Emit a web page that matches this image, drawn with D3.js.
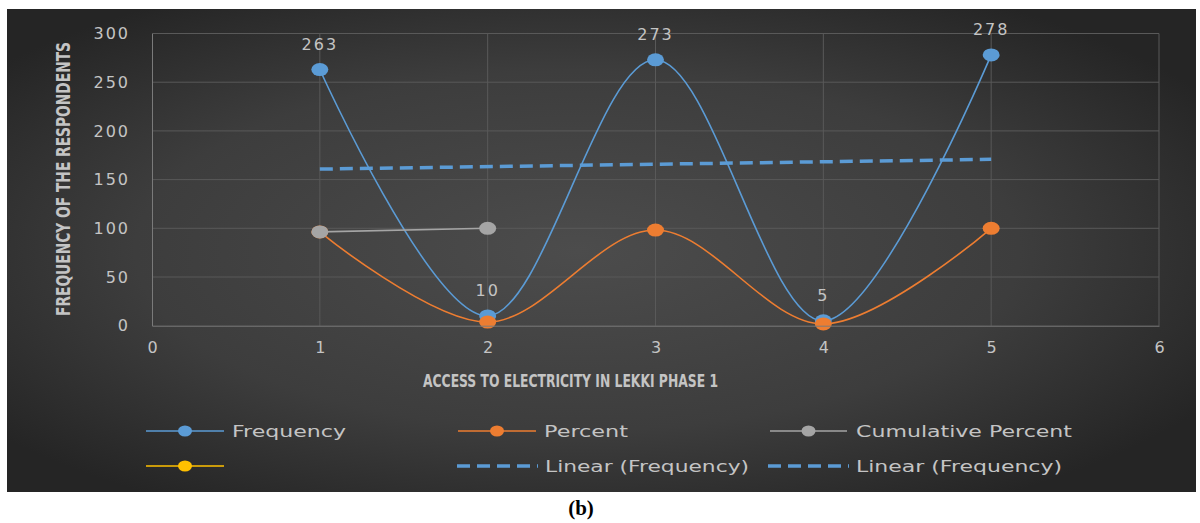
<!DOCTYPE html>
<html>
<head>
<meta charset="utf-8">
<script src="https://cdn.jsdelivr.net/npm/d3@7"></script>
<style>
  body { margin: 0; background: #fff; }
  svg { display: block; }
</style>
</head>
<body>
<script>
// data
var categories = [1, 2, 3, 4, 5];
var frequency = [263, 10, 273, 5, 278];
var percent = [96.3, 3.7, 98.2, 1.8, 100];
var cumulative = [96.3, 100];          // only two points shown
var trendX = [1, 5];
var trendY = [160.8, 170.8];           // Linear (Frequency)
var xTicks = [0, 1, 2, 3, 4, 5, 6];
var yTicks = [0, 50, 100, 150, 200, 250, 300];

var width = 1200, height = 523;
var textCol = "#c4c4c4";

var svg = d3.select("body").append("svg")
  .attr("width", width).attr("height", height);

// dark panel with soft radial light
var defs = svg.append("defs");
var grad = defs.append("radialGradient").attr("id", "bg")
  .attr("cx", "48%").attr("cy", "50%").attr("r", "62%");
grad.append("stop").attr("offset", "0%").attr("stop-color", "#4c4c4c");
grad.append("stop").attr("offset", "60%").attr("stop-color", "#3d3d3d");
grad.append("stop").attr("offset", "100%").attr("stop-color", "#252525");

svg.append("rect")
  .attr("x", 7).attr("y", 9).attr("width", 1189).attr("height", 483)
  .attr("fill", "url(#bg)");

// scales
var x = d3.scaleLinear().domain([0, 6]).range([152, 1159]);
var y = d3.scaleLinear().domain([0, 300]).range([325.7, 33.5]);

var plot = svg.append("g");

// gridlines
plot.selectAll(".hgrid").data(yTicks.slice(1)).enter().append("line")
  .attr("x1", x(0)).attr("x2", x(6))
  .attr("y1", d => y(d)).attr("y2", d => y(d))
  .attr("stroke", "#595959").attr("stroke-width", 1);
plot.selectAll(".vgrid").data(xTicks.slice(1)).enter().append("line")
  .attr("x1", d => x(d)).attr("x2", d => x(d))
  .attr("y1", y(0)).attr("y2", y(300))
  .attr("stroke", "#595959").attr("stroke-width", 1);

// axes
var xAxis = d3.axisBottom(x).tickValues(xTicks).tickFormat(d3.format("d"))
  .tickSize(0).tickPadding(16);
var gx = svg.append("g").attr("transform", "translate(0," + y(0) + ")").call(xAxis);
gx.select(".domain").attr("stroke", "#7a7a7a");
gx.selectAll("text").attr("fill", textCol)
  .style("font-family", "DejaVu Sans").style("font-size", "16px");

var yAxis = d3.axisLeft(y).tickValues(yTicks).tickSize(0).tickPadding(22);
var gy = svg.append("g").attr("transform", "translate(" + x(0) + ",0)").call(yAxis);
gy.select(".domain").attr("stroke", "#7a7a7a");
gy.selectAll("text").attr("fill", textCol)
  .style("font-family", "DejaVu Sans").style("font-size", "16px")
  .style("letter-spacing", "2px");

// axis titles (y title squeezed to the condensed look of the original)
var yTitle = svg.append("text")
  .attr("text-anchor", "middle")
  .attr("fill", textCol)
  .style("font-family", "'DejaVu Sans Condensed', 'Liberation Sans', sans-serif")
  .style("font-weight", "bold")
  .style("font-size", "19px")
  .text("FREQUENCY OF THE RESPONDENTS");
var natural = yTitle.node().getComputedTextLength();
yTitle.attr("transform", "translate(70,179) rotate(-90) scale(" + (274 / natural) + ",1)");

svg.append("text")
  .attr("x", 423).attr("y", 387)
  .attr("fill", textCol)
  .attr("textLength", 295).attr("lengthAdjust", "spacingAndGlyphs")
  .style("font-family", "'DejaVu Sans Condensed', 'Liberation Sans', sans-serif")
  .style("font-weight", "bold")
  .style("font-size", "17px")
  .text("ACCESS TO ELECTRICITY IN LEKKI PHASE 1");

// series
var smooth = d3.line()
  .x(d => x(d[0])).y(d => y(d[1]))
  .curve(d3.curveCardinal.tension(0));
var straight = d3.line().x(d => x(d[0])).y(d => y(d[1]));

function pairs(xs, ys) { return ys.map((v, i) => [xs[i], v]); }

var series = [
  { name: "Frequency", color: "#5b9bd5", pts: pairs(categories, frequency), line: smooth },
  { name: "Percent", color: "#ed7d31", pts: pairs(categories, percent), line: smooth },
  { name: "Cumulative Percent", color: "#a5a5a5", pts: pairs(categories, cumulative), line: straight }
];

series.forEach(function(s) {
  plot.append("path").attr("d", s.line(s.pts))
    .attr("fill", "none").attr("stroke", s.color).attr("stroke-width", 1.6);
  plot.selectAll(null).data(s.pts).enter().append("ellipse")
    .attr("cx", d => x(d[0])).attr("cy", d => y(d[1]))
    .attr("rx", 8.5).attr("ry", 6.5)
    .attr("fill", s.color);
});

// trendline
plot.append("path").attr("d", straight(pairs(trendX, trendY)))
  .attr("fill", "none").attr("stroke", "#5b9bd5").attr("stroke-width", 3.5)
  .attr("stroke-dasharray", "13,7");

// data labels on frequency
plot.selectAll(".lbl").data(pairs(categories, frequency)).enter().append("text")
  .attr("x", d => x(d[0])).attr("y", d => y(d[1]) - 20)
  .attr("text-anchor", "middle").attr("fill", textCol)
  .style("font-family", "DejaVu Sans").style("font-size", "16px")
  .style("letter-spacing", "2px")
  .text(d => d[1]);

// legend
var legend = [
  { label: "Frequency", color: "#5b9bd5", x1: 146, x2: 224, tx: 232, ty: 431, tl: 114, marker: true },
  { label: "Percent", color: "#ed7d31", x1: 458, x2: 536, tx: 544, ty: 431, tl: 84, marker: true },
  { label: "Cumulative Percent", color: "#a5a5a5", x1: 770, x2: 847, tx: 856, ty: 431, tl: 216, marker: true },
  { label: "", color: "#ffc000", x1: 146, x2: 224, tx: 232, ty: 466, tl: 0, marker: true },
  { label: "Linear (Frequency)", color: "#5b9bd5", x1: 457, x2: 538, tx: 545, ty: 466, tl: 204, marker: false },
  { label: "Linear (Frequency)", color: "#5b9bd5", x1: 768, x2: 849, tx: 856, ty: 466, tl: 206, marker: false }
];

var lg = svg.append("g");
legend.forEach(function(l) {
  if (l.marker) {
    lg.append("line").attr("x1", l.x1).attr("x2", l.x2).attr("y1", l.ty).attr("y2", l.ty)
      .attr("stroke", l.color).attr("stroke-width", 1.6);
    lg.append("ellipse").attr("cx", (l.x1 + l.x2) / 2).attr("cy", l.ty)
      .attr("rx", 7).attr("ry", 5.5).attr("fill", l.color);
  } else {
    lg.append("line").attr("x1", l.x1).attr("x2", l.x2).attr("y1", l.ty).attr("y2", l.ty)
      .attr("stroke", l.color).attr("stroke-width", 3.5).attr("stroke-dasharray", "13,7");
  }
  if (l.label) {
    lg.append("text").attr("x", l.tx).attr("y", l.ty).attr("dy", "0.35em")
      .attr("fill", textCol)
      .attr("textLength", l.tl).attr("lengthAdjust", "spacingAndGlyphs")
      .style("font-family", "DejaVu Sans").style("font-size", "16px")
      .text(l.label);
  }
});

// caption below the panel
svg.append("text")
  .attr("x", 581).attr("y", 515).attr("text-anchor", "middle")
  .attr("fill", "#000")
  .style("font-family", "Liberation Serif").style("font-weight", "bold")
  .style("font-size", "21px")
  .text("(b)");
</script>
</body>
</html>
